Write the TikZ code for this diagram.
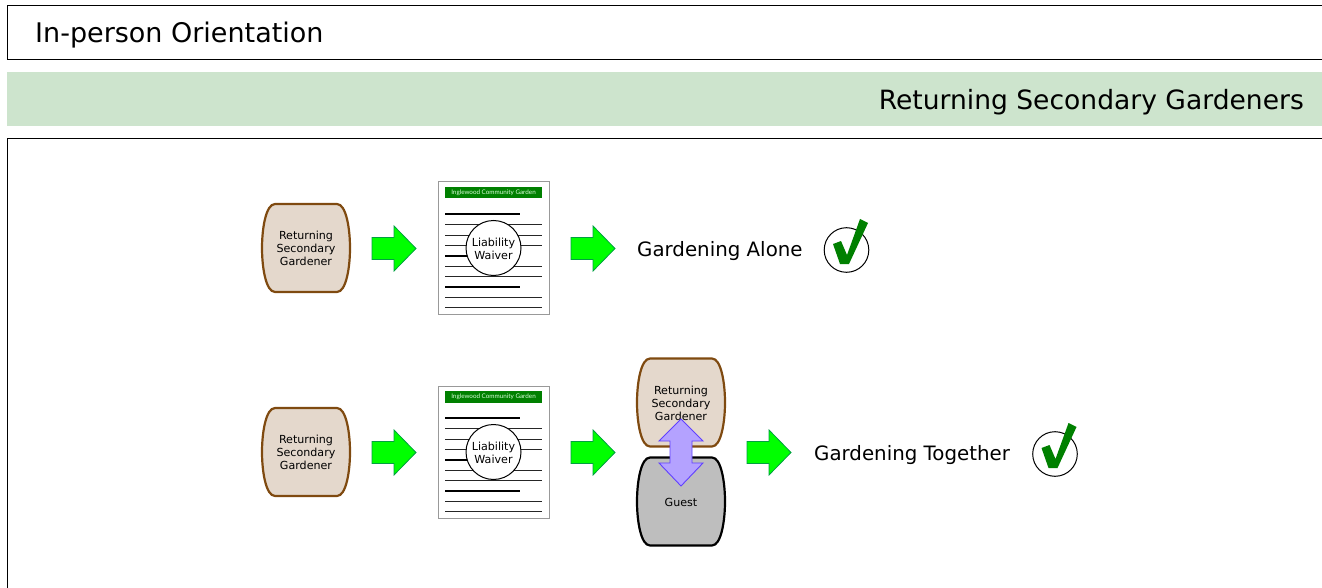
\documentclass[tikz,border=0pt]{standalone}
\usepackage{fontspec}
\setmainfont{DejaVu Sans}
\newfontfamily\docfont{Lato}
\definecolor{bandgreen}{HTML}{CDE4CD}
\definecolor{tan}{HTML}{E4D8CC}
\definecolor{tanline}{HTML}{7F4A10}
\definecolor{guestgray}{HTML}{BEBEBE}
\definecolor{arrowgreen}{HTML}{00FF00}
\definecolor{arrowline}{HTML}{00A040}
\definecolor{docgreen}{HTML}{008000}
\definecolor{dbl}{HTML}{B4A2FF}
\definecolor{dblline}{HTML}{6040FF}
\tikzset{
  x=1pt,y=-1pt,
  frame/.style={draw=black,line width=1pt},
  barrel/.style={line width=2.2pt,line join=round},
  smalltext/.style={font=\fontsize{11.1}{13}\selectfont,align=center,text=black,inner sep=0pt},
  titletext/.style={font=\fontsize{27}{30}\selectfont,text=black,inner sep=0pt},
  bandtext/.style={font=\fontsize{26.55}{30}\selectfont,text=black,inner sep=0pt},
  midtext/.style={font=\fontsize{19.8}{24}\selectfont,text=black,inner sep=0pt},
  flow/.style={fill=arrowgreen,draw=arrowline,line width=.8pt,line join=miter},
  thin rule/.style={line width=1pt,black!85},
  thick rule/.style={line width=1.9pt,black},
  pics/barrelshape/.style n args={2}{code={
    \draw[barrel,fill=#1,draw=#2]
      (-31,-44) -- (31,-44)
      .. controls (40,-44) and (44,-20) .. (44,0)
      .. controls (44,20) and (40,44) .. (31,44)
      -- (-31,44)
      .. controls (-40,44) and (-44,20) .. (-44,0)
      .. controls (-44,-20) and (-40,-44) .. (-31,-44) -- cycle;
  }},
  pics/flowarrow/.style={code={
    \draw[flow] (0,-11) -- (22,-11) -- (22,-22.5) -- (44,0) -- (22,22.5) -- (22,11) -- (0,11) -- cycle;
  }},
  pics/waiver/.style={code={
    \draw[black!40,line width=1pt,fill=white] (0,0) rectangle (111,132);
    \fill[docgreen] (7,5) rectangle (104,16.5);
    \node[text=white!85!green,font=\docfont\fontsize{6.3}{7}\selectfont,inner sep=0pt] at (55.5,11) {Inglewood Community Garden};
    \foreach \yy in {42.5,53,63.5,84,94.5,115,125}{\draw[thin rule] (7,\yy) -- (104,\yy);}
    \foreach \yy in {32,74,105}{\draw[thick rule] (7,\yy) -- (82,\yy);}
    \draw[black,line width=1pt,fill=white] (55.5,66) circle (27.5);
    \node[smalltext] at (55.5,66.5) {Liability\\Waiver};
  }},
  pics/tick/.style={code={
    \draw[black,line width=1pt,fill=white] (0,0) circle (22.3);
    \fill[docgreen] (-13.5,-6) -- (-5.5,-9) -- (0.5,5) -- (13.5,-31) -- (21.5,-27) -- (2.5,14) -- (-6.5,14) -- cycle;
  }}
}
\begin{document}
\begin{tikzpicture}
\useasboundingbox (0,0) rectangle (1322,588);
% header bars
\draw[frame] (1323,5.5) -- (7.5,5.5) -- (7.5,60) -- (1323,60);
\node[titletext,anchor=west] (title) at (35,35.5) {In-person Orientation};
\fill[bandgreen] (7,72) rectangle (1322,126.5);
\node[bandtext,anchor=east] (band) at (1304,102.5) {Returning Secondary Gardeners};
\draw[frame] (7.5,589) -- (7.5,138.5) -- (1323,138.5);
% row 1
\pic at (306,248) {barrelshape={tan}{tanline}};
\node[smalltext] (g1) at (306,248.5) {Returning\\Secondary\\Gardener};
\pic at (372,248.5) {flowarrow};
\pic at (438,182) {waiver};
\pic at (571,248.5) {flowarrow};
\node[midtext,anchor=west] (alone) at (637,251) {Gardening Alone};
\pic at (846.5,250) {tick};
% row 2
\pic at (306,452) {barrelshape={tan}{tanline}};
\node[smalltext] (g2) at (306,452.5) {Returning\\Secondary\\Gardener};
\pic at (372,452.5) {flowarrow};
\pic at (438,386) {waiver};
\pic at (571,452.5) {flowarrow};
\pic at (681,402.5) {barrelshape={tan}{tanline}};
\node[smalltext] (g3) at (681,403) {Returning\\Secondary\\Gardener};
\pic at (681,501.5) {barrelshape={guestgray}{black}};
\node[smalltext] (guest) at (681,502) {Guest};
\draw[fill=dbl,draw=dblline,line width=.9pt] (681,419) -- (703,441) -- (692,441) -- (692,463) -- (703,463) -- (681,486) -- (659,463) -- (670,463) -- (670,441) -- (659,441) -- cycle;
\pic at (747,452.5) {flowarrow};
\node[midtext,anchor=west] (together) at (814,455) {Gardening Together};
\pic at (1055,454) {tick};
\end{tikzpicture}
\end{document}
